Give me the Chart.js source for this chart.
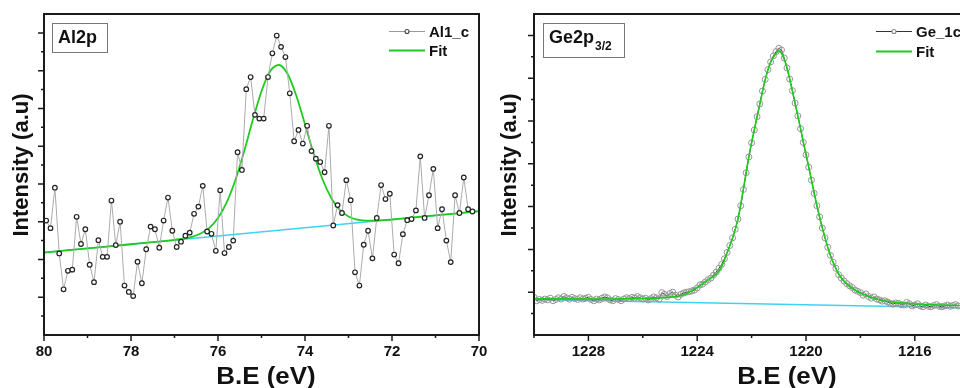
<!DOCTYPE html>
<html>
<head>
<meta charset="utf-8">
<script src="https://cdn.jsdelivr.net/npm/chart.js@4.4.1/dist/chart.umd.min.js"></script>
<style>
  html, body { margin: 0; padding: 0; background: #fff; width: 960px; height: 388px; overflow: hidden; }
  .panel { position: absolute; top: 0; }
  #left { left: 0; width: 500px; height: 388px; }
  #right { left: 480px; width: 560px; height: 388px; }
</style>
</head>
<body>
<div class="panel" id="left"><canvas id="c1" width="500" height="388"></canvas></div>
<div class="panel" id="right"><canvas id="c2" width="560" height="388"></canvas></div>
<script>
// ---- Al2p panel ----
const alTicks = [80, 78, 76, 74, 72, 70];
const alEnergy = [
  79.95, 79.85, 79.75, 79.65, 79.55, 79.45, 79.35, 79.25, 79.15, 79.05,
  78.95, 78.85, 78.75, 78.65, 78.55, 78.45, 78.35, 78.25, 78.15, 78.05,
  77.95, 77.85, 77.75, 77.65, 77.55, 77.45, 77.35, 77.25, 77.15, 77.05,
  76.95, 76.85, 76.75, 76.65, 76.55, 76.45, 76.35, 76.25, 76.15, 76.05,
  75.95, 75.85, 75.75, 75.65, 75.55, 75.45, 75.35, 75.25, 75.15, 75.05,
  74.95, 74.85, 74.75, 74.65, 74.55, 74.45, 74.35, 74.25, 74.15, 74.05,
  73.95, 73.85, 73.75, 73.65, 73.55, 73.45, 73.35, 73.25, 73.15, 73.05,
  72.95, 72.85, 72.75, 72.65, 72.55, 72.45, 72.35, 72.25, 72.15, 72.05,
  71.95, 71.85, 71.75, 71.65, 71.55, 71.45, 71.35, 71.25, 71.15, 71.05,
  70.95, 70.85, 70.75, 70.65, 70.55, 70.45, 70.35, 70.25, 70.15
];
const alCounts = [
  3.03, 2.83, 3.90, 2.16, 1.21, 1.70, 1.73, 3.13, 2.41, 2.80,
  1.86, 1.40, 2.51, 2.07, 2.07, 3.56, 2.38, 3.00, 1.31, 1.14,
  1.03, 1.94, 1.37, 2.27, 2.87, 2.80, 2.31, 3.03, 3.64, 2.76,
  2.33, 2.47, 2.63, 2.71, 3.21, 3.40, 3.95, 2.74, 2.68, 2.23,
  3.83, 2.17, 2.33, 2.50, 4.84, 4.37, 6.51, 6.83, 5.83, 5.73,
  5.73, 6.83, 7.46, 7.93, 7.63, 7.36, 6.40, 5.13, 5.43, 5.07,
  5.54, 4.87, 4.67, 4.58, 4.31, 5.54, 2.90, 3.44, 3.23, 4.10,
  3.57, 1.66, 1.31, 2.39, 2.76, 2.03, 3.10, 3.97, 3.60, 3.74,
  2.13, 1.90, 2.67, 3.04, 3.07, 3.30, 4.73, 3.10, 3.70, 4.40,
  2.83, 3.33, 2.50, 1.93, 3.70, 3.23, 4.17, 3.33, 3.27
];
const alFitEnergy = [80, 79.5, 79, 78.5, 78, 77.5, 77, 76.6, 76.4, 76.2,
  76.0, 75.8, 75.6, 75.4, 75.2, 75.0, 74.8, 74.6, 74.4, 74.2,
  74.0, 73.8, 73.6, 73.4, 73.2, 73.0, 72.8, 72.6, 72.4, 72.0,
  71.5, 71, 70.5, 70];
const alFit = [2.185, 2.240, 2.294, 2.349, 2.403, 2.458, 2.519, 2.600, 2.686, 2.837,
  3.097, 3.510, 4.103, 4.859, 5.691, 6.456, 6.986, 7.149, 6.910, 6.337,
  5.578, 4.800, 4.131, 3.636, 3.316, 3.138, 3.054, 3.026, 3.026, 3.058,
  3.113, 3.168, 3.222, 3.277];
const alBaseEnergy = [80, 70];
const alBase = [2.185, 3.277];

// ---- Ge2p3/2 panel ----
const geTicks = [1228, 1224, 1220, 1216];
const geEnergy = [
  1230.0, 1229.9, 1229.8, 1229.7, 1229.6, 1229.5, 1229.4, 1229.3, 1229.2, 1229.1,
  1229.0, 1228.9, 1228.8, 1228.7, 1228.6, 1228.5, 1228.4, 1228.3, 1228.2, 1228.1,
  1228.0, 1227.9, 1227.8, 1227.7, 1227.6, 1227.5, 1227.4, 1227.3, 1227.2, 1227.1,
  1227.0, 1226.9, 1226.8, 1226.7, 1226.6, 1226.5, 1226.4, 1226.3, 1226.2, 1226.1,
  1226.0, 1225.9, 1225.8, 1225.7, 1225.6, 1225.5, 1225.4, 1225.3, 1225.2, 1225.1,
  1225.0, 1224.9, 1224.8, 1224.7, 1224.6, 1224.5, 1224.4, 1224.3, 1224.2, 1224.1,
  1224.0, 1223.9, 1223.8, 1223.7, 1223.6, 1223.5, 1223.4, 1223.3, 1223.2, 1223.1,
  1223.0, 1222.9, 1222.8, 1222.7, 1222.6, 1222.5, 1222.4, 1222.3, 1222.2, 1222.1,
  1222.0, 1221.9, 1221.8, 1221.7, 1221.6, 1221.5, 1221.4, 1221.3, 1221.2, 1221.1,
  1221.0, 1220.9, 1220.8, 1220.7, 1220.6, 1220.5, 1220.4, 1220.3, 1220.2, 1220.1,
  1220.0, 1219.9, 1219.8, 1219.7, 1219.6, 1219.5, 1219.4, 1219.3, 1219.2, 1219.1,
  1219.0, 1218.9, 1218.8, 1218.7, 1218.6, 1218.5, 1218.4, 1218.3, 1218.2, 1218.1,
  1218.0, 1217.9, 1217.8, 1217.7, 1217.6, 1217.5, 1217.4, 1217.3, 1217.2, 1217.1,
  1217.0, 1216.9, 1216.8, 1216.7, 1216.6, 1216.5, 1216.4, 1216.3, 1216.2, 1216.1,
  1216.0, 1215.9, 1215.8, 1215.7, 1215.6, 1215.5, 1215.4, 1215.3, 1215.2, 1215.1,
  1215.0, 1214.9, 1214.8, 1214.7, 1214.6, 1214.5, 1214.4
];
const geCounts = [
  0.88, 0.80, 0.83, 0.81, 0.84, 0.82, 0.86, 0.80, 0.83, 0.87,
  0.84, 0.90, 0.87, 0.84, 0.88, 0.85, 0.83, 0.87, 0.84, 0.86,
  0.88, 0.83, 0.80, 0.84, 0.82, 0.86, 0.89, 0.87, 0.82, 0.80,
  0.85, 0.83, 0.80, 0.84, 0.87, 0.85, 0.88, 0.86, 0.90, 0.87,
  0.84, 0.86, 0.82, 0.85, 0.89, 0.87, 0.84, 0.99, 0.95, 0.90,
  0.97, 1.00, 0.93, 0.89, 0.95, 0.98, 1.00, 1.01, 1.03, 1.05,
  1.10, 1.17, 1.19, 1.24, 1.29, 1.33, 1.40, 1.47, 1.56, 1.65,
  1.78, 1.93, 2.09, 2.27, 2.47, 2.71, 3.02, 3.40, 3.79, 4.16,
  4.49, 4.79, 5.10, 5.40, 5.70, 5.97, 6.20, 6.38, 6.52, 6.62,
  6.70, 6.66, 6.47, 6.24, 5.98, 5.71, 5.42, 5.12, 4.82, 4.50,
  4.21, 3.92, 3.62, 3.31, 3.02, 2.76, 2.50, 2.27, 2.05, 1.86,
  1.70, 1.56, 1.41, 1.33, 1.26, 1.20, 1.15, 1.11, 1.05, 1.02,
  0.99, 0.93, 0.96, 0.90, 0.86, 0.89, 0.84, 0.82, 0.79, 0.80,
  0.77, 0.74, 0.72, 0.75, 0.74, 0.71, 0.70, 0.76, 0.73, 0.68,
  0.70, 0.73, 0.68, 0.66, 0.70, 0.67, 0.66, 0.69, 0.71, 0.67,
  0.66, 0.68, 0.70, 0.67, 0.69, 0.71, 0.68
];
const geFitEnergy = [1230, 1228, 1227, 1226, 1225, 1224.5, 1224.0, 1223.6, 1223.3, 1223.1,
  1222.9, 1222.7, 1222.5, 1222.3, 1222.1, 1221.9, 1221.7, 1221.5, 1221.3, 1221.1,
  1221.0, 1220.9, 1220.7, 1220.5, 1220.3, 1220.1, 1219.9, 1219.7, 1219.5, 1219.3,
  1219.1, 1218.9, 1218.7, 1218.5, 1218.2, 1218.0, 1217.5, 1217.0, 1216.5, 1216.0,
  1215.0, 1214.0, 1212];
const geFit = [0.845, 0.84, 0.842, 0.852, 0.885, 0.94, 1.11, 1.29, 1.42, 1.6,
  1.92, 2.26, 2.72, 3.42, 4.17, 4.80, 5.38, 5.96, 6.37, 6.58,
  6.64, 6.58, 6.25, 5.70, 5.12, 4.52, 3.93, 3.32, 2.75, 2.27,
  1.85, 1.55, 1.33, 1.19, 1.05, 0.98, 0.86, 0.79, 0.75, 0.725,
  0.70, 0.685, 0.67];
const geBaseEnergy = [1230, 1212];
const geBase = [0.83, 0.607];

const FONT = "'Liberation Sans', Arial, sans-serif";
const pts = (xs, ys) => xs.map((e, i) => ({ x: e, y: ys[i] }));

// frame, ticks, tick labels, legend, label box and axis titles
const panelDeco = {
  id: 'panelDeco',
  afterDraw(chart, args, o) {
    const { ctx, chartArea: a } = chart;
    const xs = chart.scales.x, ys = chart.scales.y;
    ctx.save();
    ctx.strokeStyle = '#1a1a1a';
    ctx.lineWidth = 1.5;
    ctx.beginPath();
    for (let v = Math.ceil(xs.min / o.xMinor) * o.xMinor; v <= xs.max + 1e-6; v += o.xMinor) {
      const px = xs.getPixelForValue(v);
      const len = o.xTicks.some(t => Math.abs(t - v) < 1e-6) ? 6 : 3;
      ctx.moveTo(px, a.bottom); ctx.lineTo(px, a.bottom + len);
    }
    for (let v = ys.min + 0.5; v < ys.max - 1e-6; v += 0.5) {
      const py = ys.getPixelForValue(v);
      const len = Math.abs(v - Math.round(v)) < 1e-6 ? 6 : 3;
      ctx.moveTo(a.left, py); ctx.lineTo(a.left - len, py);
    }
    ctx.stroke();
    ctx.lineWidth = 2;
    ctx.strokeRect(a.left, a.top, a.right - a.left, a.bottom - a.top);

    // tick labels
    ctx.fillStyle = '#111';
    ctx.font = 'bold 15px ' + FONT;
    ctx.textAlign = 'center';
    ctx.textBaseline = 'middle';
    o.xTicks.forEach(t => ctx.fillText(String(t), xs.getPixelForValue(t), a.bottom + 17));

    // axis titles
    ctx.save();
    ctx.translate(o.xTitleX, 377);
    ctx.scale(1.08, 1);
    ctx.font = 'bold 24px ' + FONT;
    ctx.fillText('B.E (eV)', 0, 0);
    ctx.restore();
    ctx.save();
    ctx.translate(o.yTitleX, 165);
    ctx.rotate(-Math.PI / 2);
    ctx.font = 'bold 22px ' + FONT;
    ctx.fillText('Intensity (a.u)', 0, 0);
    ctx.restore();

    // label box
    const b = o.box;
    ctx.strokeStyle = '#777';
    ctx.lineWidth = 1;
    ctx.strokeRect(b.x + 0.5, b.y + 0.5, b.w, b.h);
    ctx.textAlign = 'left';
    ctx.textBaseline = 'alphabetic';
    ctx.font = 'bold 18px ' + FONT;
    ctx.fillText(b.text, b.x + 6, b.y + 20);
    if (b.sub) {
      const w = ctx.measureText(b.text).width;
      ctx.font = 'bold 12px ' + FONT;
      ctx.fillText(b.sub, b.x + 6 + w + 1, b.y + 27);
    }

    // legend
    const L = o.legend;
    ctx.font = 'bold 15px ' + FONT;
    ctx.textBaseline = 'middle';
    L.items.forEach((it, k) => {
      const y = L.y + k * L.gap;
      ctx.strokeStyle = it.line;
      ctx.lineWidth = it.width;
      ctx.beginPath(); ctx.moveTo(L.x, y); ctx.lineTo(L.x + 36, y); ctx.stroke();
      if (it.marker) {
        ctx.beginPath();
        ctx.arc(L.x + 18, y, it.radius, 0, Math.PI * 2);
        ctx.fillStyle = '#fff'; ctx.fill();
        ctx.strokeStyle = it.marker; ctx.lineWidth = 1.1; ctx.stroke();
      }
      ctx.fillStyle = '#111';
      ctx.fillText(it.text, L.x + 40, y + 1);
    });
    ctx.restore();
  }
};

const hideAxis = s => { s.width = 0; };
const flatAxis = s => { s.height = 0; };

function baseOptions(xmin, xmax, ymax, pad, deco) {
  return {
    responsive: false,
    animation: false,
    events: [],
    layout: { padding: pad },
    scales: {
      x: {
        type: 'linear', min: xmin, max: xmax, reverse: true,
        grid: { display: false, drawTicks: false }, border: { display: false },
        ticks: { display: false }, afterFit: flatAxis
      },
      y: {
        type: 'linear', min: 0, max: ymax,
        grid: { display: false, drawTicks: false }, border: { display: false },
        ticks: { display: false }, afterFit: hideAxis
      }
    },
    plugins: { legend: { display: false }, tooltip: { enabled: false }, panelDeco: deco }
  };
}

new Chart(document.getElementById('c1'), {
  type: 'line',
  data: {
    datasets: [
      { data: pts(alEnergy, alCounts), borderColor: '#ababab', borderWidth: 1,
        pointRadius: 2.3, pointBorderColor: '#222', pointBackgroundColor: '#fff', pointBorderWidth: 1.2, tension: 0 },
      { data: pts(alFitEnergy, alFit), borderColor: '#1ecb1e', borderWidth: 1.8,
        pointRadius: 0, cubicInterpolationMode: 'monotone' },
      { data: pts(alBaseEnergy, alBase), borderColor: '#3fd2f2', borderWidth: 1.3, pointRadius: 0 }
    ]
  },
  options: baseOptions(70, 80, 8.5, { left: 44, top: 14, right: 21, bottom: 53 }, {
    xTicks: alTicks, xMinor: 1, xTitleX: 266, yTitleX: 22,
    box: { x: 52, y: 23, w: 55, h: 29, text: 'Al2p' },
    legend: { x: 389, y: 31.5, gap: 19, items: [
      { text: 'Al1_c', line: '#999', width: 1, marker: '#444', radius: 2 },
      { text: 'Fit', line: '#1ecb1e', width: 1.8 }
    ] }
  }),
  plugins: [panelDeco]
});

new Chart(document.getElementById('c2'), {
  type: 'line',
  data: {
    datasets: [
      { data: pts(geFitEnergy, geFit), borderColor: '#1ecb1e', borderWidth: 1.6,
        pointRadius: 0, cubicInterpolationMode: 'monotone' },
      { data: pts(geEnergy, geCounts), borderColor: '#333', borderWidth: 1,
        pointRadius: 3, pointBorderColor: '#959595', pointBackgroundColor: 'rgba(255,255,255,0)', pointBorderWidth: 1, tension: 0 },
      { data: pts(geBaseEnergy, geBase), borderColor: '#3fd2f2', borderWidth: 1.3, pointRadius: 0 }
    ]
  },
  options: baseOptions(1212, 1230, 7.5, { left: 54, top: 14, right: 16.4, bottom: 53 }, {
    xTicks: geTicks, xMinor: 2, xTitleX: 307, yTitleX: 30,
    box: { x: 63, y: 23, w: 81, h: 34, text: 'Ge2p', sub: '3/2' },
    legend: { x: 396, y: 31.5, gap: 20, items: [
      { text: 'Ge_1c', line: '#333', width: 1, marker: '#888', radius: 2 },
      { text: 'Fit', line: '#1ecb1e', width: 1.8 }
    ] }
  }),
  plugins: [panelDeco]
});
</script>
</body>
</html>
